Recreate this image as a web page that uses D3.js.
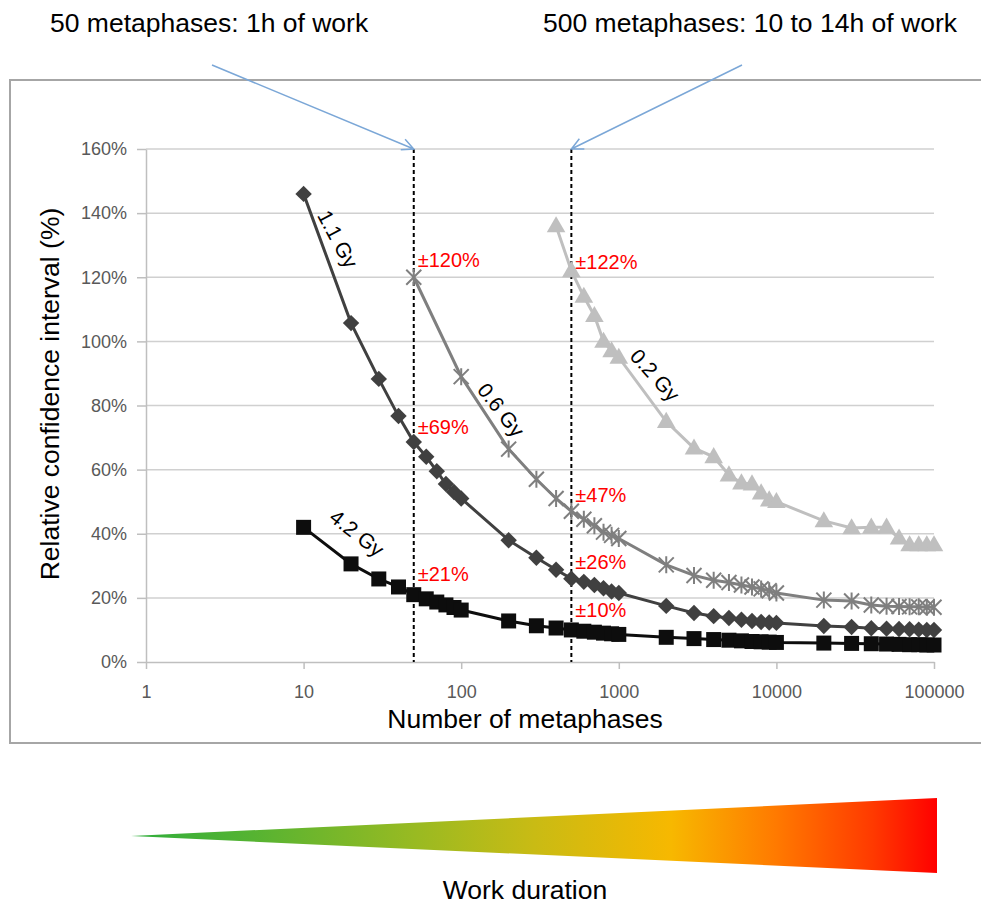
<!DOCTYPE html>
<html>
<head>
<meta charset="utf-8">
<title>Relative confidence interval vs number of metaphases</title>
<script src="https://cdn.jsdelivr.net/npm/d3@7"></script>
<style>
    body { margin: 0; background: #fff; }
    svg text { font-family: "Liberation Sans", Arial, sans-serif; }
    .axis path, .axis line { fill: none; stroke: #bfbfbf; stroke-width: 1.5; }
    .axis text { fill: #595959; font-size: 18px; }
</style>
</head>
<body>
<script>
    var w = 981, h = 905;

    // x positions (number of metaphases)
    var xsFull = [10, 20, 30, 40, 50, 60, 70, 80, 90, 100, 200, 300, 400, 500, 600, 700, 800, 900, 1000,
        2000, 3000, 4000, 5000, 6000, 7000, 8000, 9000, 10000,
        20000, 30000, 40000, 50000, 60000, 70000, 80000, 90000, 100000];
    var xs06 = [50, 100, 200, 300, 400, 500, 600, 700, 800, 900, 1000,
        2000, 3000, 4000, 5000, 6000, 7000, 8000, 9000, 10000,
        20000, 30000, 40000, 50000, 60000, 70000, 80000, 90000, 100000];
    var xs02 = [400, 500, 600, 700, 800, 900, 1000,
        2000, 3000, 4000, 5000, 6000, 7000, 8000, 9000, 10000,
        20000, 30000, 40000, 50000, 60000, 70000, 80000, 90000, 100000];

    // relative confidence interval, %
    var gy42 = [42, 30.6, 25.9, 23.4, 21, 19.7, 18.7, 17.8, 17, 16.2, 12.8, 11.3, 10.6, 10, 9.6, 9.3, 9, 8.8, 8.6,
        7.7, 7.3, 7, 6.8, 6.6, 6.4, 6.3, 6.2, 6.1, 5.9, 5.8, 5.7, 5.6, 5.5, 5.4, 5.4, 5.3, 5.3];
    var gy11 = [146, 105.7, 88.3, 76.7, 68.6, 64, 59.5, 55.5, 53, 51, 38, 32.5, 28.8, 26, 25, 24, 23, 22, 21.5,
        17.5, 15.3, 14.3, 13.7, 13.2, 12.8, 12.5, 12.3, 12.2, 11.2, 10.9, 10.5, 10.4, 10.3, 10.2, 10.1, 10, 10];
    var gy06 = [120, 89, 66.4, 57, 51, 47, 44.5, 42.5, 40.5, 39.5, 38.5,
        30.3, 27, 25.5, 24.8, 24, 23.4, 22.8, 22.2, 21.5,
        19.3, 19, 17.8, 17.4, 17.3, 17.2, 17.2, 17.1, 17.1];
    var gy02 = [136, 122, 114, 108, 100, 97, 95,
        75, 66.7, 64, 58.3, 55.8, 55.5, 52.7, 50.5, 50,
        44, 41.8, 42, 42, 38.6, 36.5, 36.5, 36.5, 36.5];

    var xTicks = [1, 10, 100, 1000, 10000, 100000];
    var yTicks = [0, 20, 40, 60, 80, 100, 120, 140, 160];

    // red call-outs at 50 and 500 metaphases
    var calloutX = [50, 50, 50, 500, 500, 500, 500];
    var calloutText = ["±120%", "±69%", "±21%", "±122%", "±47%", "±26%", "±10%"];
    var calloutY = [123.2, 71.1, 25.3, 122.6, 49.9, 29, 14];

    var svg = d3.select("body").append("svg")
        .attr("width", w)
        .attr("height", h);

    var xScale = d3.scaleLog().domain([1, 100000]).range([146, 934]);
    var yScale = d3.scaleLinear().domain([0, 160]).range([662, 149]);

    // outer frame
    svg.append("rect")
        .attr("x", 10).attr("y", 80)
        .attr("width", 1000).attr("height", 663)
        .attr("fill", "none")
        .attr("stroke", "#a6a6a6")
        .attr("stroke-width", 2);

    // gridlines
    svg.append("g").selectAll("line")
        .data(yTicks.slice(1))
        .enter().append("line")
        .attr("x1", xScale(1)).attr("x2", xScale(100000))
        .attr("y1", function(d) { return yScale(d); })
        .attr("y2", function(d) { return yScale(d); })
        .attr("stroke", "#d0d0d0")
        .attr("stroke-width", 1.5);

    var yAxis = d3.axisLeft(yScale)
        .tickValues(yTicks)
        .tickSize(9)
        .tickSizeOuter(0)
        .tickPadding(10)
        .tickFormat(function(d) { return d + "%"; });
    svg.append("g")
        .attr("class", "axis")
        .attr("transform", "translate(" + xScale(1) + ",0)")
        .call(yAxis);

    var xAxis = d3.axisBottom(xScale)
        .tickValues(xTicks)
        .tickSize(7)
        .tickSizeOuter(0)
        .tickPadding(16)
        .tickFormat(d3.format("d"));
    svg.append("g")
        .attr("class", "axis")
        .attr("transform", "translate(0," + yScale(0) + ")")
        .call(xAxis);

    // axis titles
    svg.append("text")
        .attr("x", 525).attr("y", 728)
        .attr("text-anchor", "middle")
        .attr("font-size", "26.5px")
        .attr("fill", "#000")
        .text("Number of metaphases");
    svg.append("text")
        .attr("transform", "translate(59,394) rotate(-90)")
        .attr("text-anchor", "middle")
        .attr("font-size", "26.5px")
        .attr("fill", "#000")
        .text("Relative confidence interval (%)");

    // dashed markers at 50 and 500
    svg.append("g").selectAll("line")
        .data([50, 500])
        .enter().append("line")
        .attr("x1", function(d) { return xScale(d); })
        .attr("x2", function(d) { return xScale(d); })
        .attr("y1", yScale(160)).attr("y2", yScale(0))
        .attr("stroke", "#000")
        .attr("stroke-width", 2)
        .attr("stroke-dasharray", "4,3");

    // series
    var series = [
        { xs: xs02, ys: gy02, color: "#bfbfbf", marker: "triangle" },
        { xs: xs06, ys: gy06, color: "#7f7f7f", marker: "star" },
        { xs: xsFull, ys: gy11, color: "#404040", marker: "diamond" },
        { xs: xsFull, ys: gy42, color: "#0d0d0d", marker: "square" }
    ];

    var line = d3.line()
        .x(function(d) { return xScale(d[0]); })
        .y(function(d) { return yScale(d[1]); });

    var triangle = d3.symbol().type(d3.symbolTriangle).size(150);
    var square = d3.symbol().type(d3.symbolSquare).size(225);
    var diamond = d3.symbol().type(d3.symbolSquare).size(135);

    series.forEach(function(s) {
        var pts = s.xs.map(function(x, i) { return [x, s.ys[i]]; });
        var g = svg.append("g");
        g.append("path")
            .datum(pts)
            .attr("d", line)
            .attr("fill", "none")
            .attr("stroke", s.color)
            .attr("stroke-width", 3);
        var m = g.selectAll(".m")
            .data(pts)
            .enter();
        if (s.marker === "star") {
            m.append("path")
                .attr("transform", function(d) {
                    return "translate(" + xScale(d[0]) + "," + yScale(d[1]) + ")";
                })
                .attr("d", "M-7.5,-7.5L7.5,7.5M-7.5,7.5L7.5,-7.5M0,-8.5L0,8.5")
                .attr("fill", "none")
                .attr("stroke", s.color)
                .attr("stroke-width", 2);
        } else {
            m.append("path")
                .attr("transform", function(d) {
                    var t = "translate(" + xScale(d[0]) + "," + yScale(d[1]) + ")";
                    if (s.marker === "diamond") t += " rotate(45)";
                    if (s.marker === "triangle") t += " translate(0,1)";
                    return t;
                })
                .attr("d", s.marker === "triangle" ? triangle : s.marker === "square" ? square : diamond)
                .attr("fill", s.color);
        }
    });

    // dose labels along the curves
    var doseText = ["1.1 Gy", "0.6 Gy", "0.2 Gy", "4.2 Gy"];
    var doseX = [16.5, 179, 1697, 21.8];
    var doseY = [131.9, 78.6, 89.5, 40.2];
    var doseAngle = [62, 52, 48, 38];
    svg.append("g").selectAll("text")
        .data(doseText)
        .enter().append("text")
        .attr("transform", function(d, i) {
            return "translate(" + xScale(doseX[i]) + "," + yScale(doseY[i]) + ") rotate(" + doseAngle[i] + ")";
        })
        .attr("text-anchor", "middle")
        .attr("dy", "0.35em")
        .attr("font-size", "21px")
        .attr("fill", "#000")
        .text(function(d) { return d; });

    // red call-outs
    svg.append("g").selectAll("text")
        .data(calloutText)
        .enter().append("text")
        .attr("x", function(d, i) { return xScale(calloutX[i]) + 4; })
        .attr("y", function(d, i) { return yScale(calloutY[i]); })
        .attr("font-size", "20px")
        .attr("fill", "#ff0000")
        .text(function(d) { return d; });

    // top annotations with arrows
    var arrowColor = "#7ba7d7";
    var notes = [
        { text: "50 metaphases: 1h of work", tx: 50, from: [212, 65], at: 50 },
        { text: "500 metaphases: 10 to 14h of work", tx: 543, from: [742, 65], at: 500 }
    ];
    notes.forEach(function(n) {
        svg.append("text")
            .attr("x", n.tx).attr("y", 32)
            .attr("font-size", "26.5px")
            .attr("fill", "#000")
            .text(n.text);
        var x2 = xScale(n.at), y2 = yScale(160);
        var x1 = n.from[0], y1 = n.from[1];
        var ang = Math.atan2(y2 - y1, x2 - x1);
        var len = 13, spread = 0.45;
        svg.append("path")
            .attr("d", "M" + x1 + "," + y1 + "L" + x2 + "," + y2 +
                "M" + (x2 - len * Math.cos(ang - spread)) + "," + (y2 - len * Math.sin(ang - spread)) +
                "L" + x2 + "," + y2 +
                "L" + (x2 - len * Math.cos(ang + spread)) + "," + (y2 - len * Math.sin(ang + spread)))
            .attr("fill", "none")
            .attr("stroke", arrowColor)
            .attr("stroke-width", 1.5);
    });

    // work duration wedge
    var defs = svg.append("defs");
    var grad = defs.append("linearGradient")
        .attr("id", "dur")
        .attr("gradientUnits", "userSpaceOnUse")
        .attr("x1", 131).attr("x2", 937).attr("y1", 0).attr("y2", 0);
    var stops = [[0, "#2fae3c"], [0.15, "#55b332"], [0.35, "#98ba22"], [0.5, "#c9bb14"],
        [0.67, "#f7b800"], [0.8, "#ff7a00"], [0.92, "#ff3a00"], [1, "#ff0000"]];
    grad.selectAll("stop")
        .data(stops)
        .enter().append("stop")
        .attr("offset", function(d) { return d[0]; })
        .attr("stop-color", function(d) { return d[1]; });
    svg.append("path")
        .attr("d", "M131,836L937,798L937,873Z")
        .attr("fill", "url(#dur)");
    svg.append("text")
        .attr("x", 525).attr("y", 899)
        .attr("text-anchor", "middle")
        .attr("font-size", "26.5px")
        .attr("fill", "#000")
        .text("Work duration");
</script>
</body>
</html>
